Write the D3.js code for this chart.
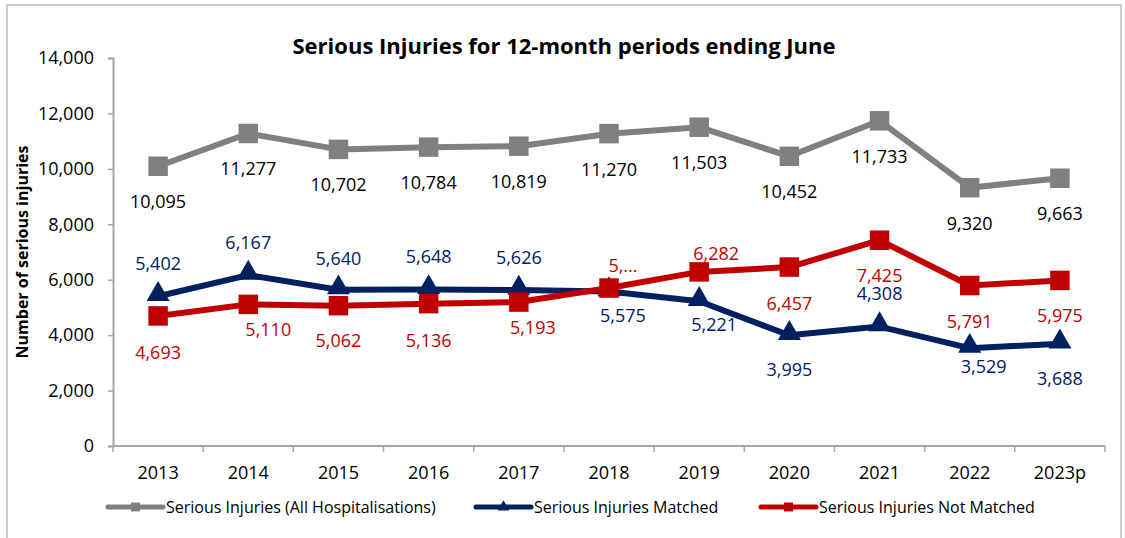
<!DOCTYPE html>
<html>
<head>
<meta charset="utf-8">
<script src="https://cdn.jsdelivr.net/npm/d3@7/dist/d3.min.js"></script>
<style>
  html, body { margin: 0; padding: 0; background: #fff; }
  svg { display: block; }
  text { font-family: "Open Sans", "Noto Sans", sans-serif; }
</style>
</head>
<body>
<svg id="chart" width="1125" height="538"></svg>
<script>
// ---------- DATA ----------
const categories = ["2013","2014","2015","2016","2017","2018","2019","2020","2021","2022","2023p"];
const allHospitalisations = [10095, 11277, 10702, 10784, 10819, 11270, 11503, 10452, 11733, 9320, 9663];
const matched = [5402, 6167, 5640, 5648, 5626, 5575, 5221, 3995, 4308, 3529, 3688];
const notMatched = [4693, 5110, 5062, 5136, 5193, 5700, 6282, 6457, 7425, 5791, 5975];
const notMatchedLabelText = ["4,693","5,110","5,062","5,136","5,193","5,...","6,282","6,457","7,425","5,791","5,975"];
const yTicks = [0, 2000, 4000, 6000, 8000, 10000, 12000, 14000];
const seriesNames = ["Serious Injuries (All Hospitalisations)", "Serious Injuries Matched", "Serious Injuries Not Matched"];
const title = "Serious Injuries for 12-month periods ending June";
const yTitle = "Number of serious injuries";

// ---------- LAYOUT ----------
const svg = d3.select("#chart");
const x = d3.scaleBand().domain(categories).range([113, 1105]).padding(0);
const y = d3.scaleLinear().domain([0, 14000]).range([446, 58]);
const fmt = d3.format(",");
const axisColor = "#A6A6A6";

// label placement (dx, dy from marker centre)
const grayLabelPos = categories.map(() => [0, 35]);
const blueLabelPos = [[0,-33],[0,-33],[0,-32],[0,-33],[0,-33],[14,24],[15,23],[0,34],[0,-34],[14,18],[0,34]];
const redLabelPos = [[0,36],[20,25],[0,34],[0,36],[14,25],[14,-23],[17,-19],[0,36],[0,35],[0,35],[0,35]];

// outer border
svg.append("rect").attr("x", 7).attr("y", 5).attr("width", 1114).attr("height", 545)
  .attr("fill", "none").attr("stroke", "#BFBFBF").attr("stroke-width", 1.5);

// title
svg.append("text").attr("x", 564).attr("y", 45).attr("text-anchor", "middle")
  .attr("dominant-baseline", "central")
  .style("font-size", "22px").style("font-weight", "bold").attr("fill", "#000")
  .text(title);

// y axis
const yAxis = d3.axisLeft(y).tickValues(yTicks).tickSize(5).tickPadding(14).tickFormat(fmt);
const gy = svg.append("g").attr("transform", "translate(113,0)").call(yAxis);
gy.select(".domain").attr("stroke", axisColor).attr("stroke-width", 2);
gy.selectAll(".tick line").attr("stroke", axisColor).attr("stroke-width", 1.5);
gy.selectAll(".tick text").style("font-size", "18px").attr("fill", "#000")
  .style("font-family", "'Open Sans', sans-serif");

// x axis
const xAxis = d3.axisBottom(x).tickSize(0).tickPadding(20);
const gx = svg.append("g").attr("transform", "translate(0,446)").call(xAxis);
gx.select(".domain").remove();
gx.selectAll(".tick text").style("font-size", "18px").attr("fill", "#000")
  .style("font-family", "'Open Sans', sans-serif");
svg.append("line").attr("x1", 113).attr("x2", 1105).attr("y1", 446).attr("y2", 446)
  .attr("stroke", axisColor).attr("stroke-width", 2);
const boundaries = categories.map(c => x(c)).concat([x(categories[categories.length - 1]) + x.bandwidth()]);
svg.selectAll(".xtick").data(boundaries).enter().append("line")
  .attr("x1", d => d).attr("x2", d => d).attr("y1", 446).attr("y2", 452)
  .attr("stroke", axisColor).attr("stroke-width", 1.5);

// y title
svg.append("text").attr("transform", "translate(22,252) rotate(-90)")
  .attr("text-anchor", "middle").attr("dominant-baseline", "central")
  .style("font-size", "16px").style("font-weight", "bold").attr("fill", "#000")
  .text(yTitle);

const cx = c => x(c) + x.bandwidth() / 2;
const line = d3.line().x((d, i) => cx(categories[i])).y(d => y(d));

function drawSeries(values, color, marker, labelColor, labelPos, labelText) {
  const g = svg.append("g");
  g.append("path").datum(values).attr("d", line).attr("fill", "none")
    .attr("stroke", color).attr("stroke-width", 6).attr("stroke-linejoin", "round");
  const sym = marker === "square" ? d3.symbol().type(d3.symbolSquare).size(380)
                                  : d3.symbol().type(d3.symbolTriangle).size(230);
  g.selectAll(".m").data(values).enter().append("path")
    .attr("d", sym)
    .attr("transform", (d, i) => `translate(${cx(categories[i])},${y(d) + (marker === "square" ? 0 : -2)})`)
    .attr("fill", color);
  return () => {
    g.selectAll(".lbl").data(values).enter().append("text")
      .attr("x", (d, i) => cx(categories[i]) + labelPos[i][0])
      .attr("y", (d, i) => y(d) + labelPos[i][1])
      .attr("text-anchor", "middle").attr("dominant-baseline", "central")
      .style("font-size", "18px").attr("fill", labelColor)
      .text((d, i) => labelText ? labelText[i] : fmt(d));
  };
}

const l1 = drawSeries(allHospitalisations, "#808080", "square", "#000", grayLabelPos, null);
const l2 = drawSeries(matched, "#002060", "triangle", "#002060", blueLabelPos, null);
const l3 = drawSeries(notMatched, "#C00000", "square", "#C00000", redLabelPos, notMatchedLabelText);
l1(); l2(); l3();

// legend
const legendItems = [
  { name: seriesNames[0], color: "#808080", marker: "square", x0: 108 },
  { name: seriesNames[1], color: "#002060", marker: "triangle", x0: 476 },
  { name: seriesNames[2], color: "#C00000", marker: "square", x0: 761 }
];
const ly = 507;
legendItems.forEach(it => {
  const g = svg.append("g");
  g.append("line").attr("x1", it.x0).attr("x2", it.x0 + 55).attr("y1", ly).attr("y2", ly)
    .attr("stroke", it.color).attr("stroke-width", 5).attr("stroke-linecap", "round");
  const sym = it.marker === "square" ? d3.symbol().type(d3.symbolSquare).size(80)
                                     : d3.symbol().type(d3.symbolTriangle).size(60);
  g.append("path").attr("d", sym).attr("transform", `translate(${it.x0 + 27.5},${ly})`).attr("fill", it.color);
  g.append("text").attr("x", it.x0 + 58).attr("y", ly).attr("dominant-baseline", "central")
    .style("font-size", "16px").attr("fill", "#000").text(it.name);
});
</script>
</body>
</html>
